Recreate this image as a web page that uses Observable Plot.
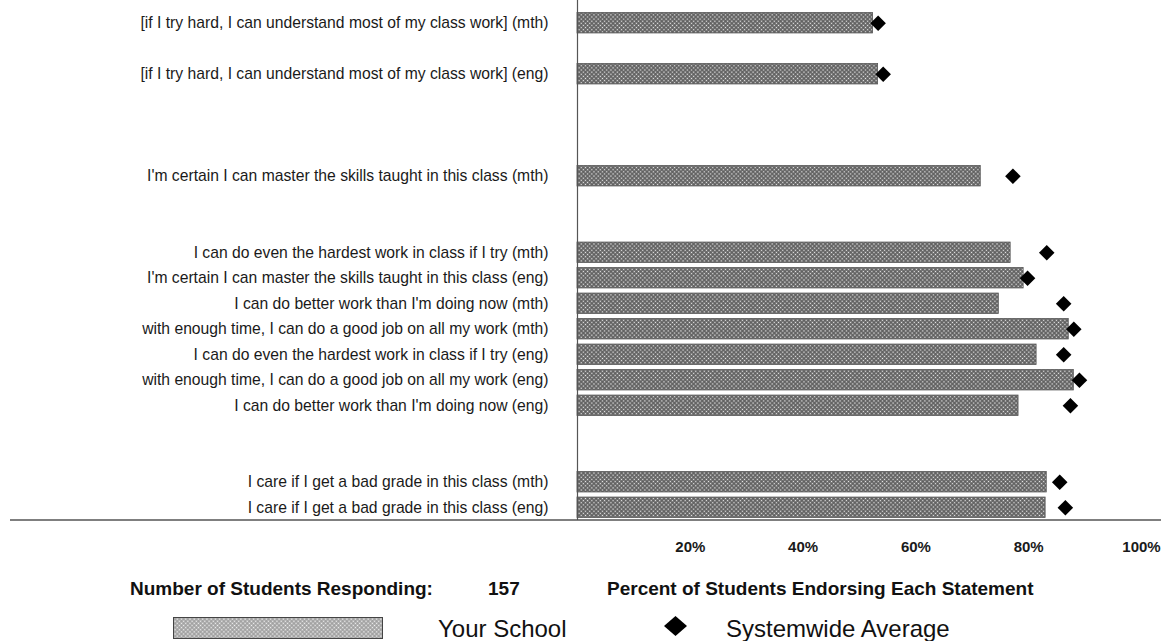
<!DOCTYPE html>
<html><head><meta charset="utf-8">
<script src="https://cdn.jsdelivr.net/npm/d3@7"></script>
<script src="https://cdn.jsdelivr.net/npm/@observablehq/plot@0.6"></script>
<style>
body{margin:0;background:#fff;font-family:"Liberation Sans",Arial,sans-serif;color:#111;}
#wrap{position:relative;width:1161px;height:641px;overflow:hidden;}
#footer{position:absolute;left:0;top:565px;width:1161px;height:76px;}
.t{position:absolute;white-space:nowrap;line-height:1;}
.b{font-weight:bold;font-size:19px;}
.r{font-size:24px;}
</style></head><body>
<svg width="0" height="0" style="position:absolute">
<defs>
<pattern id="hatch" width="3" height="3" patternUnits="userSpaceOnUse" patternTransform="rotate(45)">
<rect width="3" height="3" fill="#5c5c5c"/>
<rect x="0.8" y="0.8" width="1.4" height="1.4" fill="#ececec"/>
</pattern>
<pattern id="hatchLight" width="3" height="3" patternUnits="userSpaceOnUse" patternTransform="rotate(45)">
<rect width="3" height="3" fill="#9a9a9a"/>
<rect x="0.7" y="0.7" width="1.6" height="1.6" fill="#f4f4f4"/>
</pattern>
</defs></svg>
<div id="wrap">
<div id="chart"></div>
<div id="footer">
  <div class="t b" style="left:130px;top:14px;">Number of Students Responding:</div>
  <div class="t b" id="nValue" style="left:488px;top:14px;"></div>
  <div class="t b" style="left:607px;top:14px;">Percent of Students Endorsing Each Statement</div>
  <svg class="t" style="left:173px;top:52px;" width="210" height="22"><rect x="0.5" y="0.5" width="209" height="21" fill="url(#hatchLight)" stroke="#444" stroke-width="1"/></svg>
  <div class="t r" style="left:438px;top:52px;">Your School</div>
  <svg class="t" style="left:664px;top:51px;" width="23" height="20"><path d="M11.5,0L23,10L11.5,20L0,10Z" fill="#000"/></svg>
  <div class="t r" style="left:726px;top:52px;">Systemwide Average</div>
</div>
</div>
<script>
const statements = [
  "[if I try hard, I can understand most of my class work] (mth)",
  "[if I try hard, I can understand most of my class work] (eng)",
  "I'm certain I can master the skills taught in this class (mth)",
  "I can do even the hardest work in class if I try (mth)",
  "I'm certain I can master the skills taught in this class (eng)",
  "I can do better work than I'm doing now (mth)",
  "with enough time, I can do a good job on all my work (mth)",
  "I can do even the hardest work in class if I try (eng)",
  "with enough time, I can do a good job on all my work (eng)",
  "I can do better work than I'm doing now (eng)",
  "I care if I get a bad grade in this class (mth)",
  "I care if I get a bad grade in this class (eng)"
];
const schoolPct = [52.4, 53.3, 71.5, 76.8, 79.1, 74.7, 87.1, 81.4, 88.0, 78.2, 83.2, 83.0];
const systemPct = [53.3, 54.2, 77.2, 83.2, 79.8, 86.2, 88.0, 86.2, 89.0, 87.4, 85.5, 86.5];
const xTicks = [20, 40, 60, 80, 100];
const respondents = 157;

document.getElementById("nValue").textContent = respondents;

const rows = statements.map((s, i) => ({statement: s, school: schoolPct[i], system: systemPct[i]}));
const S = statements;
const yDomain = [S[0], "gap1", S[1], "gap2", "gap3", "gap4", S[2], "gap5", "gap6",
  S[3], S[4], S[5], S[6], S[7], S[8], S[9], "gap7", "gap8", S[10], S[11]];

const W = 1161, H = 565, mT = 10, mB = 45, mL = 577, mR = 20;
const chart = Plot.plot({
  width: W, height: H,
  marginTop: mT, marginBottom: mB, marginLeft: mL, marginRight: mR,
  style: {fontFamily: "'Liberation Sans', Arial, sans-serif", color: "#1a1a1a", background: "#fff", overflow: "visible"},
  x: {domain: [0, 100]},
  y: {domain: yDomain, paddingInner: 0.2, paddingOuter: 0.1, round: false},
  marks: [
    Plot.barX(rows, {x: "school", y: "statement", fill: "url(#hatch)", stroke: "#555", strokeWidth: 0.8}),
    Plot.dot(rows, {x: "system", y: "statement", symbol: "diamond2", r: 7, fill: "#000", stroke: "none"}),
    Plot.ruleX([0], {stroke: "#555", strokeWidth: 1.2, insetTop: -10}),
    Plot.axisY({ticks: statements, tickSize: 0, tickPadding: 29, fontSize: 15.7, label: null}),
    Plot.axisX({ticks: xTicks, tickSize: 0, tickPadding: 21, tickFormat: d => d + "%", fontSize: 15, fontWeight: "bold", label: null})
  ]
});
document.getElementById("chart").appendChild(chart);
d3.select(chart).append("line")
  .attr("x1", 10).attr("x2", W).attr("y1", H - mB).attr("y2", H - mB)
  .attr("stroke", "#555").attr("stroke-width", 1.5);
</script>
</body></html>
